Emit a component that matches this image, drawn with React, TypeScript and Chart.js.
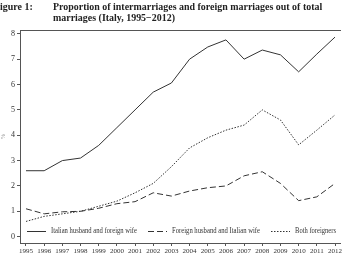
import React, { useEffect, useLayoutEffect, useRef } from "react";
import { Chart, registerables } from "chart.js";

Chart.register(...registerables);

const YEARS = [1995, 1996, 1997, 1998, 1999, 2000, 2001, 2002, 2003, 2004, 2005, 2006, 2007, 2008, 2009, 2010, 2011, 2012];
const ITALIAN_HUSBAND_FOREIGN_WIFE = [2.6, 2.6, 3.0, 3.1, 3.6, 4.3, 5.0, 5.7, 6.06, 7.0, 7.48, 7.76, 7.0, 7.36, 7.17, 6.5, 7.2, 7.87];
const FOREIGN_HUSBAND_ITALIAN_WIFE = [1.1, 0.9, 0.98, 1.0, 1.12, 1.3, 1.38, 1.73, 1.6, 1.8, 1.93, 2.0, 2.4, 2.56, 2.1, 1.42, 1.57, 2.1];
const BOTH_FOREIGNERS = [0.6, 0.8, 0.9, 1.0, 1.2, 1.4, 1.73, 2.1, 2.76, 3.5, 3.9, 4.2, 4.4, 5.0, 4.6, 3.62, 4.2, 4.8];
const Y_TICKS = [0, 1, 2, 3, 4, 5, 6, 7, 8];
const SERIES_LABELS = ["Italian husband and foreign wife", "Foreign husband and Italian wife", "Both foreigners"];
const TITLE_LABEL = "Figure 1:";
const TITLE_LINES = ["Proportion of intermarriages and foreign marriages out of total", "marriages (Italy, 1995\u22122012)"];

const FONT = "'Liberation Serif', 'Times New Roman', serif";
const LINE_COLOR = "#333";
const AXIS_COLOR = "#555";

const framePlugin = {
  id: "frame",
  afterDraw(chart: any) {
    const { ctx, chartArea } = chart;
    ctx.save();
    ctx.strokeStyle = AXIS_COLOR;
    ctx.lineWidth = 1;
    ctx.beginPath();
    ctx.moveTo(chartArea.left, chartArea.top + 0.5);
    ctx.lineTo(chartArea.right, chartArea.top + 0.5);
    ctx.stroke();

    // legend inside plot area
    const y = chartArea.bottom - 12;
    const starts = [27, 148, 271];
    const textWidths = [86, 88, 41];
    const sampleLen = 19;
    ctx.font = `7.5px ${FONT}`;
    ctx.textBaseline = "middle";
    ctx.textAlign = "left";
    chart.data.datasets.forEach((ds: any, i: number) => {
      const x0 = starts[i];
      ctx.strokeStyle = ds.borderColor;
      ctx.lineWidth = ds.borderWidth;
      ctx.setLineDash(ds.borderDash || []);
      ctx.beginPath();
      ctx.moveTo(x0, y + 0.5);
      ctx.lineTo(x0 + sampleLen, y + 0.5);
      ctx.stroke();
      ctx.setLineDash([]);
      ctx.fillStyle = "#333";
      const w = ctx.measureText(ds.label).width || 1;
      ctx.save();
      ctx.translate(x0 + sampleLen + 5, y + 0.5);
      ctx.scale(textWidths[i] / w, 1);
      ctx.fillText(ds.label, 0, 0);
      ctx.restore();
    });
    ctx.restore();
  },
};

export default function App() {
  const ref = useRef<HTMLCanvasElement | null>(null);
  const line1Ref = useRef<HTMLDivElement | null>(null);
  const titleRefs = useRef<(HTMLDivElement | null)[]>([]);

  useLayoutEffect(() => {
    const l1 = line1Ref.current;
    if (!l1) return;
    const w = l1.offsetWidth || 1;
    const k = 269 / w;
    titleRefs.current.forEach((el) => {
      if (el) el.style.transform = `scaleX(${k})`;
    });
  }, []);

  useEffect(() => {
    if (!ref.current) return;
    const chart = new Chart(ref.current, {
      type: "line",
      data: {
        datasets: [
          {
            label: SERIES_LABELS[0],
            data: YEARS.map((y, i) => ({ x: y, y: ITALIAN_HUSBAND_FOREIGN_WIFE[i] })),
            borderColor: LINE_COLOR,
            borderWidth: 1,
            pointRadius: 0,
            tension: 0,
          },
          {
            label: SERIES_LABELS[1],
            data: YEARS.map((y, i) => ({ x: y, y: FOREIGN_HUSBAND_ITALIAN_WIFE[i] })),
            borderColor: LINE_COLOR,
            borderWidth: 1,
            borderDash: [6, 3],
            pointRadius: 0,
            tension: 0,
          },
          {
            label: SERIES_LABELS[2],
            data: YEARS.map((y, i) => ({ x: y, y: BOTH_FOREIGNERS[i] })),
            borderColor: LINE_COLOR,
            borderWidth: 1,
            borderDash: [1.5, 1.5],
            pointRadius: 0,
            tension: 0,
          },
        ],
      },
      options: {
        animation: false,
        responsive: false,
        devicePixelRatio: 1,
        layout: { padding: { top: 30, left: 0, right: 0, bottom: 0 }, autoPadding: false },
        plugins: { legend: { display: false }, tooltip: { enabled: false }, title: { display: false } },
        scales: {
          x: {
            type: "linear",
            min: 1994.67,
            max: 2012.33,
            afterBuildTicks: (s: any) => {
              s.ticks = YEARS.map((v) => ({ value: v }));
            },
            afterFit: (s: any) => {
              s.height = 13;
            },
            ticks: {
              autoSkip: false,
              maxRotation: 0,
              padding: 1,
              color: "#333",
              font: { family: FONT, size: 7 },
              callback: (v: any) => String(v),
            },
            grid: { drawOnChartArea: false, drawTicks: true, tickLength: 3, color: AXIS_COLOR },
            border: { color: AXIS_COLOR },
          },
          y: {
            type: "linear",
            min: -0.25,
            max: 8.15,
            afterBuildTicks: (s: any) => {
              s.ticks = Y_TICKS.map((v) => ({ value: v }));
            },
            afterFit: (s: any) => {
              s.width = 20;
            },
            ticks: {
              padding: 2,
              color: "#333",
              font: { family: FONT, size: 8 },
              callback: (v: any) => String(v),
            },
            title: { display: true, text: "%", color: "#888", font: { family: FONT, size: 6 }, padding: 0 },
            grid: { drawOnChartArea: false, drawTicks: true, tickLength: 3, color: AXIS_COLOR },
            border: { color: AXIS_COLOR },
          },
        },
      },
      plugins: [framePlugin],
    } as any);
    return () => chart.destroy();
  }, []);

  const titleStyle: React.CSSProperties = {
    position: "absolute",
    fontFamily: FONT,
    fontWeight: "bold",
    fontSize: "10.5px",
    lineHeight: "11px",
    color: "#222",
    whiteSpace: "nowrap",
    margin: 0,
    transformOrigin: "0 0",
  };

  return (
    <div style={{ position: "absolute", left: 0, top: 0, width: 343, height: 256, overflow: "hidden", background: "#fff" }}>
      <canvas ref={ref} width={343} height={256} style={{ position: "absolute", left: 0, top: 0 }} />
      <div ref={(el) => { titleRefs.current[0] = el; }} style={{ ...titleStyle, left: -6, top: 1 }}>{TITLE_LABEL}</div>
      <div
        ref={(el) => { titleRefs.current[1] = el; line1Ref.current = el; }}
        style={{ ...titleStyle, left: 53, top: 1 }}
      >
        {TITLE_LINES[0]}
      </div>
      <div ref={(el) => { titleRefs.current[2] = el; }} style={{ ...titleStyle, left: 53, top: 12 }}>
        {TITLE_LINES[1]}
      </div>
    </div>
  );
}
